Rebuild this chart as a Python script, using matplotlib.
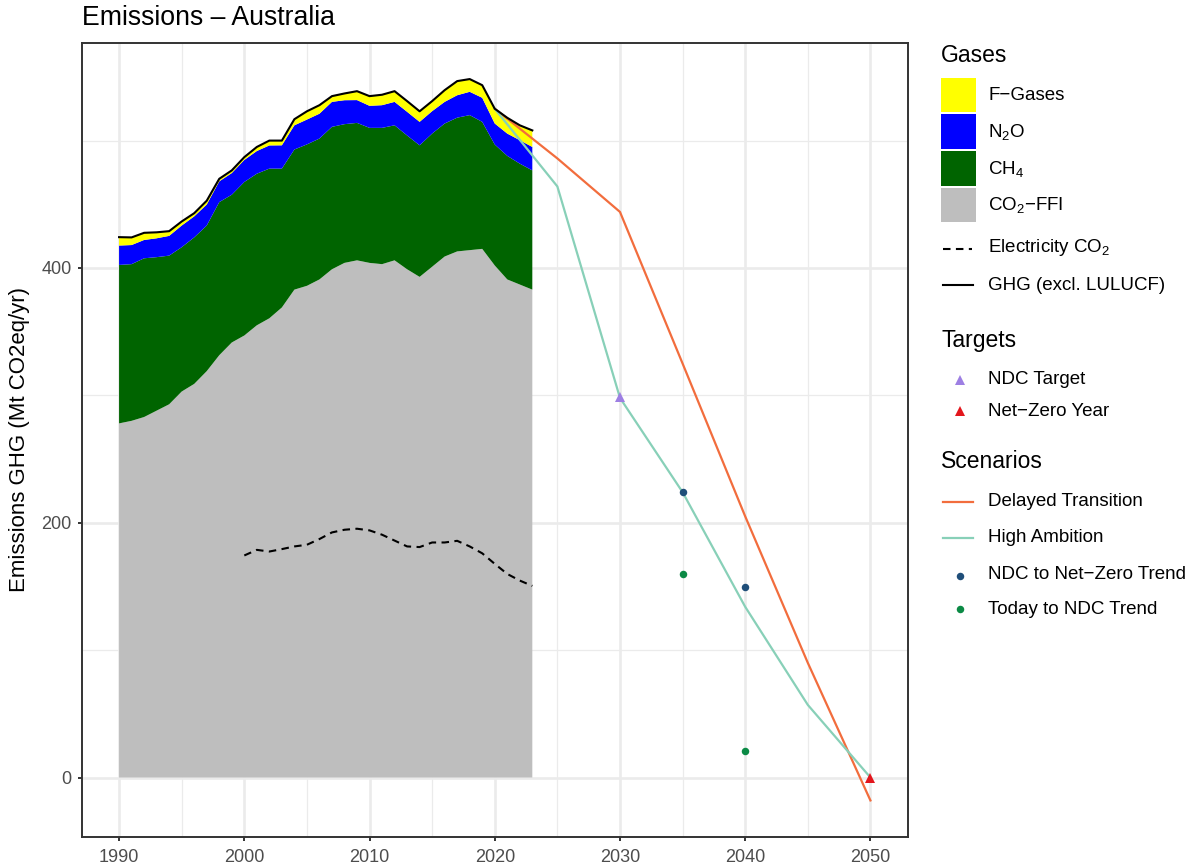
import matplotlib
matplotlib.use("Agg")
import matplotlib.pyplot as plt
from matplotlib.patches import Rectangle
from matplotlib.lines import Line2D
import numpy as np

plt.rcParams["font.family"] = ["Liberation Sans", "DejaVu Sans"]
plt.rcParams["mathtext.fontset"] = "custom"
plt.rcParams["mathtext.rm"] = "Liberation Sans"
plt.rcParams["mathtext.it"] = "Liberation Sans:italic"
plt.rcParams["mathtext.bf"] = "Liberation Sans:bold"

# Historical emissions by gas (Mt CO2eq/yr)
years = np.arange(1990, 2024)
co2_ffi = [278, 280, 283, 288, 293, 303, 309, 319, 331.5, 341.5, 347, 355, 360.5, 369,
           383, 386, 391, 399, 404, 406, 404, 403, 406, 399, 393, 401, 409, 413, 414,
           415, 402, 391, 387, 383]
ch4 = [124.4, 123, 124.6, 120.5, 116.7, 113.3, 115, 114.3, 120.2, 116, 120.5, 119,
       117.5, 109, 110, 111, 110.6, 111.8, 108.9, 107.9, 106, 107, 106, 105, 103.3,
       104.5, 104.4, 105, 106, 99.7, 94.9, 97, 94.9, 93.6]
n2o = [15.2, 15, 14.4, 14.8, 15.5, 17, 16.5, 16.5, 16.3, 17, 17.3, 17.8, 18.2, 18.3,
       19, 19.5, 19.5, 19.6, 18.8, 17.9, 17.3, 17.8, 18.4, 18.6, 18.4, 17.6, 17, 17.6,
       18.3, 18.9, 16.5, 17.5, 18.4, 18.4]
f_gases = [6.6, 6, 5.6, 4.7, 3.7, 3.2, 2.5, 3.0, 2.0, 2.1, 2.2, 3.2, 3.8, 3.7, 4.8,
           6.5, 6.7, 4.5, 5.3, 7, 7.6, 8.2, 8.4, 8.4, 8.3, 7.9, 9.2, 11.1, 10, 9.9,
           11.6, 12.4, 11.7, 13]

# Electricity sector CO2
elec_years = np.arange(2000, 2024)
elec_co2 = [174.3, 178.7, 177.4, 179.3, 181.4, 182.7, 187.2, 192.4, 194.5, 195.3,
            194, 190.6, 186, 181.4, 180.9, 184.5, 184.5, 185.8, 181.4, 176, 167.7,
            159.8, 154.6, 150.4]

# Scenario pathways
scen_years = [2020, 2025, 2030, 2035, 2040, 2045, 2050]
delayed_transition = [525, 486, 444, 325, 205, 90, -18]
high_ambition = [525, 464, 298, 224, 134, 57, 0]

# Trend points
trend_years = [2035, 2040]
ndc_to_netzero = [224, 149.5]
today_to_ndc = [160, 20.5]

# Targets
ndc_target_year, ndc_target_value = 2030, 299
netzero_year, netzero_value = 2050, 0

C_FGAS = "#FFFF00"
C_N2O = "#0000FF"
C_CH4 = "#006400"
C_CO2 = "#BEBEBE"
C_DELAYED = "#F26D3D"
C_HIGH = "#88D0B8"
C_NDCNZ = "#1F4E79"
C_TODAY = "#0B8A45"
C_NDC = "#9D7FE3"
C_NZ = "#E3161C"
TXT = "#4D4D4D"
DARK = "#333333"

W, H = 1193, 867
fig = plt.figure(figsize=(W / 100, H / 100), dpi=100)

px_l, px_r, px_t, px_b = 81.5, 908, 43, 836.5
ax = fig.add_axes([px_l / W, 1 - px_b / H, (px_r - px_l) / W, (px_b - px_t) / H])

ax.stackplot(years, co2_ffi, ch4, n2o, f_gases,
             colors=[C_CO2, C_CH4, C_N2O, C_FGAS], linewidth=0, zorder=2)
total = np.array(co2_ffi) + np.array(ch4) + np.array(n2o) + np.array(f_gases)
ax.plot(years, total, color="black", lw=1.5, zorder=4)
ax.plot(elec_years, elec_co2, color="black", lw=1.5, ls=(0, (3.6, 2.6)), zorder=4)

ax.plot(scen_years, delayed_transition, color=C_DELAYED, lw=1.6, zorder=3)
ax.plot(scen_years, high_ambition, color=C_HIGH, lw=1.6, zorder=3)

ax.plot(trend_years, ndc_to_netzero, "o", color=C_NDCNZ, ms=5.4, mew=0, zorder=5)
ax.plot(trend_years, today_to_ndc, "o", color=C_TODAY, ms=5.4, mew=0, zorder=5)
ax.plot([ndc_target_year], [ndc_target_value], "^", color=C_NDC, ms=7, mew=0, zorder=5)
ax.plot([netzero_year], [netzero_value], "^", color=C_NZ, ms=7, mew=0, zorder=5)

# Limits with 5% expansion of the data range
xs_all = list(years) + scen_years
ys_all = list(total) + delayed_transition + high_ambition + [0]
x0, x1 = min(xs_all), max(xs_all)
y0, y1 = min(ys_all), max(ys_all)
ax.set_xlim(x0 - 0.05 * (x1 - x0), x1 + 0.05 * (x1 - x0))
ax.set_ylim(y0 - 0.05 * (y1 - y0), y1 + 0.05 * (y1 - y0))

ax.set_xticks(np.arange(1990, 2051, 10))
ax.set_xticks(np.arange(1995, 2050, 10), minor=True)
ax.set_yticks([0, 200, 400])
ax.set_yticks([100, 300, 500], minor=True)
ax.grid(which="major", color="#EBEBEB", lw=1.9)
ax.grid(which="minor", color="#EBEBEB", lw=0.9)
ax.set_axisbelow(True)
ax.tick_params(which="major", length=3.2, width=1.4, color=DARK,
               labelsize=13, labelcolor=TXT)
ax.tick_params(axis="x", which="major", pad=6)
ax.tick_params(axis="y", which="major", pad=4)
ax.tick_params(which="minor", length=0)
for s in ax.spines.values():
    s.set_color(DARK)
    s.set_linewidth(1.4)

ax.set_ylabel("Emissions GHG (Mt CO2eq/yr)", fontsize=16, color="black", labelpad=8)
fig.text(px_l / W, 1 - 18 / H, "Emissions \u2013 Australia", fontsize=19.2,
         ha="left", va="center", color="black")

# Legend panel drawn in pixel coordinates
lg = fig.add_axes([0, 0, 1, 1], facecolor="none")
lg.set_xlim(0, W)
lg.set_ylim(H, 0)
lg.axis("off")

def title(y, s):
    lg.text(941, y, s, fontsize=16.5, va="center", ha="left", color="black")

def label(y, s):
    lg.text(988, y, s, fontsize=13.5, va="center", ha="left", color="black")

title(55, "Gases")
gas_keys = [(C_FGAS, "F\u2212Gases"), (C_N2O, r"N$_2$O"), (C_CH4, r"CH$_4$"),
            (C_CO2, "CO$_2$\u2212FFI")]
for i, (c, s) in enumerate(gas_keys):
    top = 77.5 + i * 36.8
    lg.add_patch(Rectangle((941, top), 35, 34.5, facecolor=c, edgecolor="none"))
    label(top + 17.5, s)

lg.add_line(Line2D([943, 972], [249, 249], color="black", lw=1.5, ls=(0, (3.6, 2.6))))
label(248, r"Electricity CO$_2$")
lg.add_line(Line2D([943, 973], [285, 285], color="black", lw=1.5))
label(285, "GHG (excl. LULUCF)")

title(340, "Targets")
lg.plot([959.5], [380], "^", color=C_NDC, ms=7, mew=0)
label(380, "NDC Target")
lg.plot([959.5], [411], "^", color=C_NZ, ms=7, mew=0)
label(411.5, "Net\u2212Zero Year")

title(462, "Scenarios")
lg.add_line(Line2D([943, 973], [501.5, 501.5], color=C_DELAYED, lw=1.6))
label(501.5, "Delayed Transition")
lg.add_line(Line2D([943, 973], [537.5, 537.5], color=C_HIGH, lw=1.6))
label(537.5, "High Ambition")
lg.plot([959.5], [576], "o", color=C_NDCNZ, ms=5.4, mew=0)
label(574.5, "NDC to Net\u2212Zero Trend")
lg.plot([959.5], [608.5], "o", color=C_TODAY, ms=5.4, mew=0)
label(609, "Today to NDC Trend")

fig.savefig("out.png", dpi=100)
